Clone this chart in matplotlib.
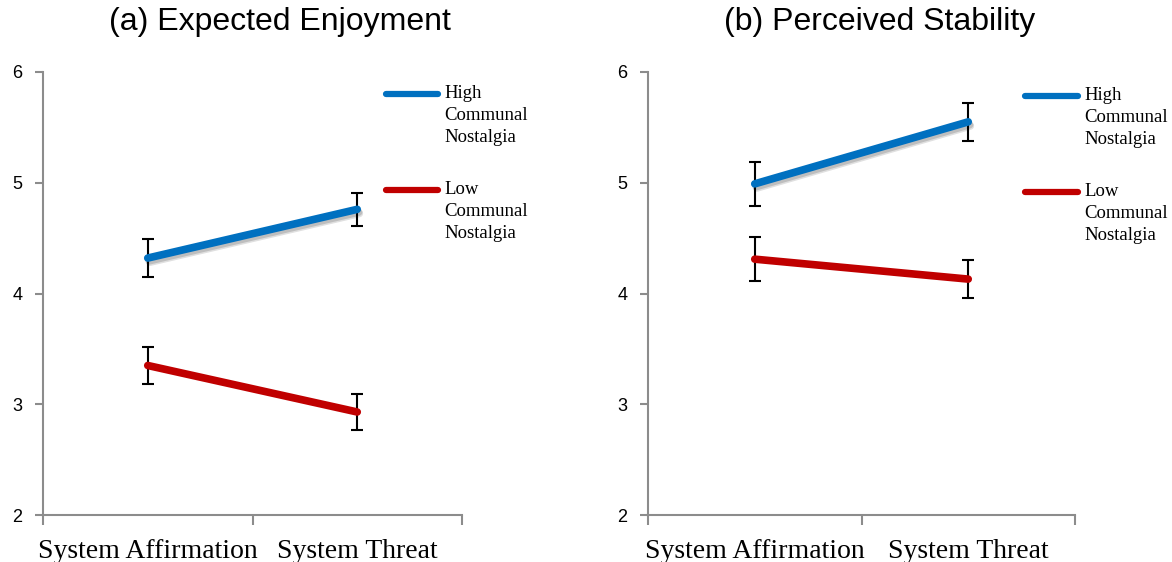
import numpy as np
import matplotlib
matplotlib.use("Agg")
import matplotlib.pyplot as plt
import matplotlib.patheffects as pe

# Data
conditions = ["System Affirmation", "System Threat"]
series_labels = ["High\nCommunal\nNostalgia", "Low\nCommunal\nNostalgia"]

enjoy_high = [4.32, 4.76]
enjoy_high_err = [0.17, 0.15]
enjoy_low = [3.35, 2.93]
enjoy_low_err = [0.17, 0.16]

stab_high = [4.99, 5.55]
stab_high_err = [0.20, 0.17]
stab_low = [4.31, 4.13]
stab_low_err = [0.20, 0.17]

titles = ["(a) Expected Enjoyment", "(b) Perceived Stability"]
y_ticks = [2, 3, 4, 5, 6]

BLUE = "#0070C0"
RED = "#C00000"
GREY = "#8c8c8c"

fig = plt.figure(figsize=(11.72, 5.62), dpi=100)
ax1 = fig.add_axes([43 / 1172, 1 - 515 / 562, 419 / 1172, 443 / 562])
ax2 = fig.add_axes([648 / 1172, 1 - 515 / 562, 427 / 1172, 443 / 562])

# legend key placement (axes fractions): x start, x end, text x, y of each key
panels = [
    (ax1, enjoy_high, enjoy_high_err, enjoy_low, enjoy_low_err,
     (0.819, 0.943, 0.957, [0.950, 0.734])),
    (ax2, stab_high, stab_high_err, stab_low, stab_low_err,
     (0.883, 1.007, 1.021, [0.946, 0.729])),
]

x = np.arange(len(conditions)) + 0.5
shadow = [pe.SimpleLineShadow(offset=(1.5, -3), shadow_color="k", alpha=0.12),
          pe.SimpleLineShadow(offset=(1, -2), shadow_color="k", alpha=0.15),
          pe.Normal()]

for ax, hi, hi_err, lo, lo_err, leg in panels:
    ax.errorbar(x, hi, yerr=hi_err, fmt="none", ecolor="black",
                elinewidth=1.5, capsize=4, capthick=1.5, zorder=2)
    ax.errorbar(x, lo, yerr=lo_err, fmt="none", ecolor="black",
                elinewidth=1.5, capsize=4, capthick=1.5, zorder=2)
    ax.plot(x, hi, color=BLUE, lw=5.5, solid_capstyle="round",
            path_effects=shadow, zorder=3)
    ax.plot(x, lo, color=RED, lw=5.5, solid_capstyle="round", zorder=3)

    ax.set_xlim(0, 2)
    ax.set_ylim(2, 6)
    ax.set_yticks(y_ticks)
    ax.set_xticks([0, 1, 2])
    ax.set_xticklabels([])
    ax.set_xticks(x, minor=True)
    ax.set_xticklabels(conditions, minor=True, family="Liberation Serif",
                       fontsize=20)
    ax.tick_params(axis="x", which="minor", length=0, pad=17)
    ax.tick_params(axis="x", which="major", length=7, width=1.5,
                   color=GREY, direction="out")
    ax.tick_params(axis="y", length=6, width=1.5, color=GREY, pad=9,
                   labelsize=13)
    for lab in ax.get_yticklabels():
        lab.set_family("Liberation Sans")

    for side in ["top", "right"]:
        ax.spines[side].set_visible(False)
    for side in ["left", "bottom"]:
        ax.spines[side].set_color(GREY)
        ax.spines[side].set_linewidth(1.5)

    # legend: key line level with the first text line
    x0, x1, xt, ys = leg
    for color, label, yk in zip([BLUE, RED], series_labels, ys):
        ax.plot([x0, x1], [yk, yk], color=color, lw=4.5,
                solid_capstyle="round", transform=ax.transAxes,
                clip_on=False)
        ax.text(xt, yk + 0.020, label, transform=ax.transAxes, va="top",
                ha="left", family="Liberation Serif", fontsize=13.5,
                linespacing=1.38, clip_on=False)

fig.text(280 / 1172, 1 - 22 / 562, titles[0], ha="center", va="center",
         family="Liberation Sans", fontsize=23)
fig.text(880 / 1172, 1 - 22 / 562, titles[1], ha="center", va="center",
         family="Liberation Sans", fontsize=23)

fig.savefig("out.png", dpi=100)
